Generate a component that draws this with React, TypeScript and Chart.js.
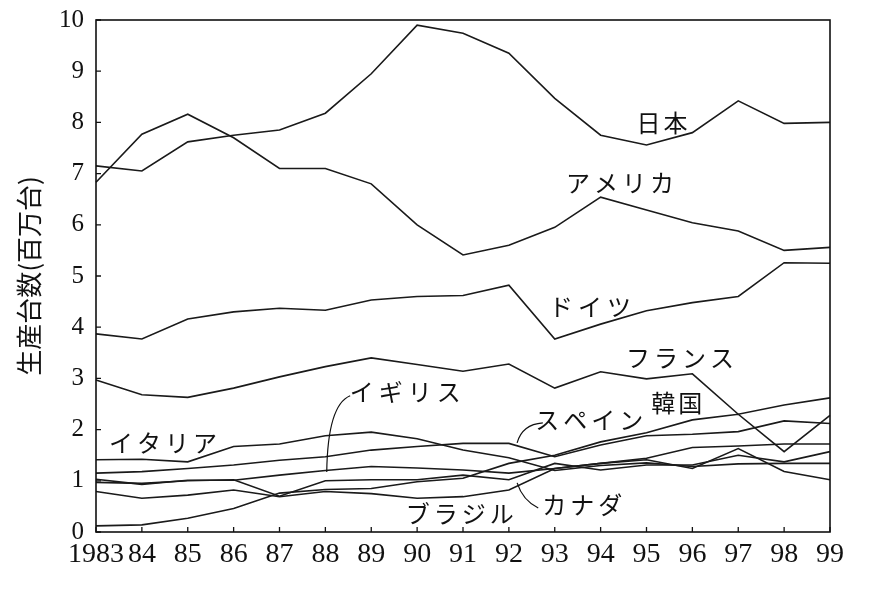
import { useEffect, useRef } from "react"
import { Chart, registerables } from "chart.js"
import type { Plugin } from "chart.js"

Chart.register(...registerables)

// 年（横軸）
const years = ["1983", "84", "85", "86", "87", "88", "89", "90", "91", "92", "93", "94", "95", "96", "97", "98", "99"]

// 生産台数（百万台）
const japan = [7.15, 7.05, 7.62, 7.75, 7.85, 8.18, 8.95, 9.9, 9.74, 9.35, 8.47, 7.75, 7.56, 7.8, 8.42, 7.98, 8.0]
const usa = [6.83, 7.77, 8.16, 7.7, 7.1, 7.1, 6.8, 6.0, 5.41, 5.6, 5.95, 6.54, 6.29, 6.04, 5.88, 5.5, 5.56]
const germany = [3.87, 3.77, 4.16, 4.3, 4.37, 4.33, 4.53, 4.6, 4.62, 4.82, 3.77, 4.06, 4.32, 4.48, 4.6, 5.26, 5.25]
const france = [2.97, 2.68, 2.63, 2.81, 3.03, 3.23, 3.4, 3.27, 3.14, 3.28, 2.81, 3.13, 2.99, 3.09, 2.3, 2.48, 2.62]
const korea = [0.12, 0.14, 0.27, 0.46, 0.76, 0.83, 0.85, 0.98, 1.05, 1.34, 1.5, 1.76, 1.94, 2.19, 2.3, 1.57, 2.28]
const spain = [1.15, 1.18, 1.24, 1.31, 1.4, 1.47, 1.6, 1.67, 1.73, 1.73, 1.47, 1.7, 1.88, 1.91, 1.96, 2.17, 2.12]
const italy = [1.41, 1.42, 1.37, 1.67, 1.72, 1.88, 1.95, 1.82, 1.6, 1.45, 1.2, 1.3, 1.35, 1.28, 1.33, 1.34, 1.34]
const uk = [1.03, 0.93, 1.01, 1.01, 1.11, 1.2, 1.28, 1.25, 1.21, 1.15, 1.24, 1.34, 1.44, 1.65, 1.68, 1.72, 1.72]
const canada = [0.97, 0.95, 1.0, 1.02, 0.7, 1.0, 1.02, 1.02, 1.11, 1.02, 1.34, 1.21, 1.31, 1.31, 1.5, 1.37, 1.57]
const brazil = [0.79, 0.66, 0.72, 0.82, 0.69, 0.79, 0.75, 0.66, 0.69, 0.82, 1.24, 1.34, 1.41, 1.24, 1.63, 1.18, 1.02]

const seriesNames = ["日本", "アメリカ", "ドイツ", "フランス", "韓国", "スペイン", "イタリア", "イギリス", "カナダ", "ブラジル"]
const seriesValues = [japan, usa, germany, france, korea, spain, italy, uk, canada, brazil]

const yTitle = "生産台数(百万台)"

// 国名ラベルの位置（年の添字, 値）と文字間隔
const labelSpots: [string, number, number, number][] = [
  ["日本", 12.34, 8.0, 27],
  ["アメリカ", 11.42, 6.82, 28],
  ["ドイツ", 10.77, 4.39, 29],
  ["フランス", 12.73, 3.4, 28],
  ["韓国", 12.66, 2.52, 27],
  ["スペイン", 10.75, 2.19, 28],
  ["イギリス", 6.74, 2.73, 29],
  ["イタリア", 1.46, 1.74, 28],
  ["ブラジル", 7.93, 0.35, 28],
  ["カナダ", 10.6, 0.53, 28],
]

// 引き出し線（始点, 制御点, 終点）
const leaders: [number, number, number, number, number, number][] = [
  [5.54, 2.66, 5.05, 2.48, 5.03, 1.17],
  [9.74, 2.13, 9.29, 2.1, 9.18, 1.74],
  [9.18, 0.96, 9.3, 0.62, 9.64, 0.47],
]

const annotate: Plugin = {
  id: "annotate",
  afterDatasetsDraw(chart) {
    const { ctx, chartArea } = chart
    const x = chart.scales.x
    const y = chart.scales.y
    ctx.save()
    ctx.strokeStyle = "#111"
    ctx.lineWidth = 1.6
    ctx.strokeRect(chartArea.left, chartArea.top, chartArea.right - chartArea.left, chartArea.bottom - chartArea.top)
    ctx.lineWidth = 1.3
    ctx.beginPath()
    years.forEach((_, i) => {
      const px = x.getPixelForValue(i)
      ctx.moveTo(px, chartArea.bottom)
      ctx.lineTo(px, chartArea.bottom - 5)
    })
    for (let v = 0; v <= 10; v++) {
      const py = y.getPixelForValue(v)
      ctx.moveTo(chartArea.left, py)
      ctx.lineTo(chartArea.left + 5, py)
    }
    ctx.stroke()

    ctx.lineWidth = 1.2
    leaders.forEach(([a, b, c, d, e, f]) => {
      ctx.beginPath()
      ctx.moveTo(x.getPixelForValue(a), y.getPixelForValue(b))
      ctx.quadraticCurveTo(x.getPixelForValue(c), y.getPixelForValue(d), x.getPixelForValue(e), y.getPixelForValue(f))
      ctx.stroke()
    })

    ctx.fillStyle = "#111"
    ctx.font = "24px 'Noto Sans CJK JP'"
    ctx.textAlign = "center"
    ctx.textBaseline = "middle"
    labelSpots.forEach(([text, i, v, step]) => {
      const cx = x.getPixelForValue(i)
      const cy = y.getPixelForValue(v)
      const chars = Array.from(text)
      const start = cx - ((chars.length - 1) * step) / 2
      chars.forEach((ch, k) => ctx.fillText(ch, start + k * step, cy))
    })
    ctx.restore()
  },
}

export default function App() {
  const canvasRef = useRef<HTMLCanvasElement | null>(null)
  const chartRef = useRef<Chart | null>(null)

  useEffect(() => {
    if (!canvasRef.current) return
    if (chartRef.current) chartRef.current.destroy()

    chartRef.current = new Chart(canvasRef.current, {
      type: "line",
      data: {
        labels: years,
        datasets: seriesValues.map((values, i) => ({
          label: seriesNames[i],
          data: values,
          borderColor: "#1a1a1a",
          borderWidth: 1.6,
          pointRadius: 0,
          tension: 0,
          fill: false,
        })),
      },
      options: {
        animation: false,
        responsive: true,
        maintainAspectRatio: false,
        layout: { padding: { left: 0, right: 55, top: 20, bottom: 0 } },
        plugins: {
          legend: { display: false },
          tooltip: { enabled: false },
        },
        scales: {
          x: {
            offset: false,
            grid: { display: false, drawTicks: false },
            border: { display: false },
            ticks: {
              color: "#111",
              padding: 6,
              maxRotation: 0,
              autoSkip: false,
              font: { family: "'Liberation Serif', serif", size: 28 },
            },
            afterFit: (scale) => {
              scale.height = 60
              scale.paddingLeft = 0
              scale.paddingRight = 0
            },
          },
          y: {
            min: 0,
            max: 10,
            grid: { display: false, drawTicks: false },
            border: { display: false },
            ticks: {
              stepSize: 1,
              color: "#111",
              padding: 12,
              font: { family: "'Liberation Serif', serif", size: 25 },
            },
            title: {
              display: true,
              text: yTitle,
              color: "#111",
              padding: { top: 14, bottom: 0 },
              font: { family: "'Noto Sans CJK JP', sans-serif", size: 26 },
            },
            afterFit: (scale) => {
              scale.width = 96
              scale.paddingTop = 0
              scale.paddingBottom = 0
            },
          },
        },
      },
      plugins: [annotate],
    })

    return () => {
      if (chartRef.current) {
        chartRef.current.destroy()
        chartRef.current = null
      }
    }
  }, [])

  return (
    <div style={{ position: "absolute", left: 0, top: 0, width: 885, height: 592, background: "#fff" }}>
      <canvas ref={canvasRef}></canvas>
    </div>
  )
}
